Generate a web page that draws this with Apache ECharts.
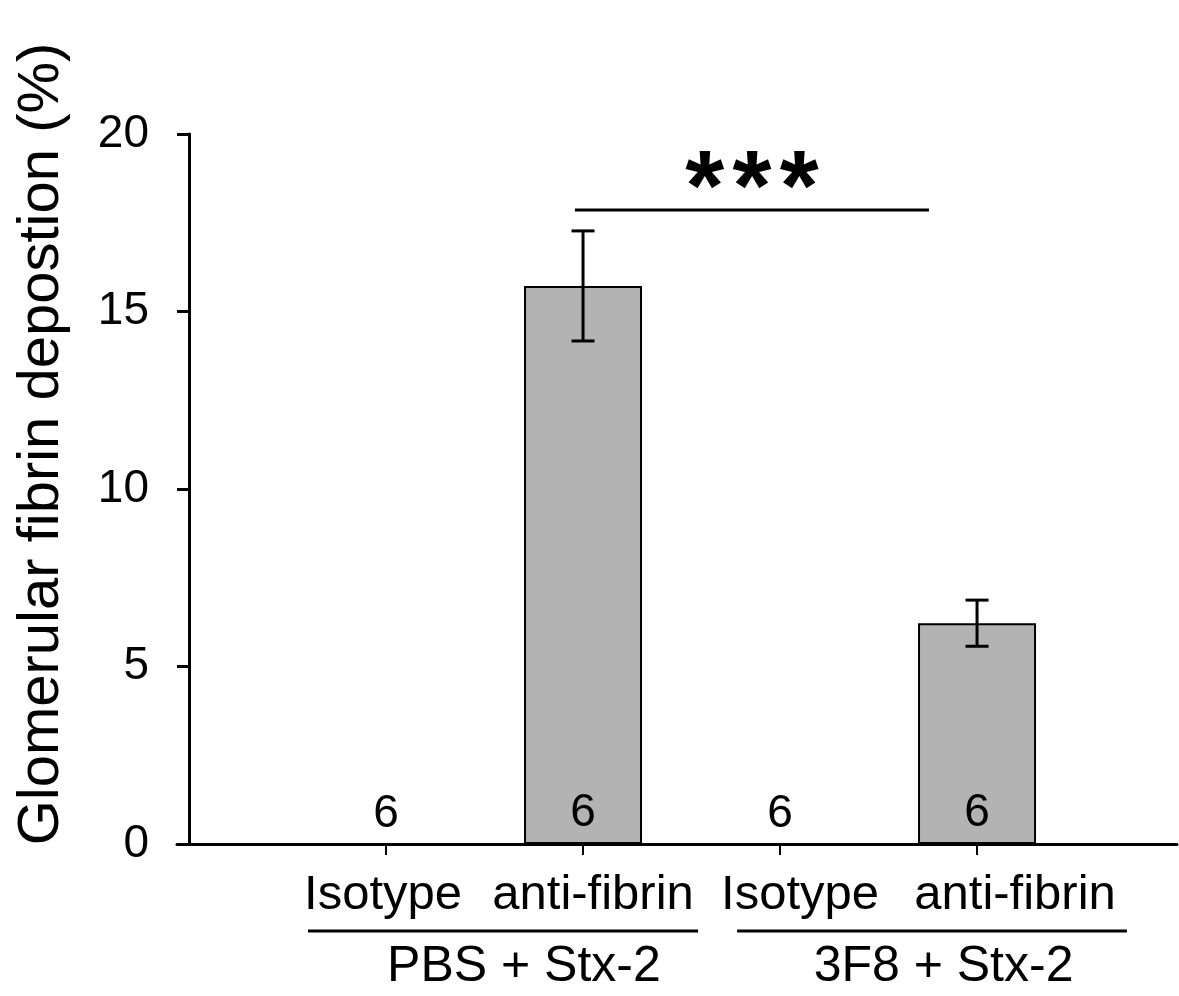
<!DOCTYPE html>
<html>
<head>
<meta charset="utf-8">
<script src="https://cdn.jsdelivr.net/npm/echarts@6/dist/echarts.min.js"></script>
<style>html,body{margin:0;padding:0;background:#fff}#c{width:1179px;height:996px}</style>
</head>
<body>
<div id="c"></div>
<script>
// ---- data ----
const categories = ['Isotype', 'anti-fibrin', 'Isotype', 'anti-fibrin'];
const positions = [1, 2, 3, 4];
const means = [0, 15.72, 0, 6.22];
const sems = [0, 1.55, 0, 0.65];
const nValues = [6, 6, 6, 6];
const groupNames = ['PBS + Stx-2', '3F8 + Stx-2'];
const groupCenters = [1.70, 3.83];
const groupSpans = [[0.604, 2.584], [2.782, 4.761]];
const sigSpan = [1.959, 3.756];
const sigLevel = 17.86;
const sigText = '*\u200A*\u200A*';
const yTicks = [0, 5, 10, 15, 20];
const yTitle = 'Glomerular fibrin depostion (%)';

// ---- layout (not data) ----
const FONT = "'Liberation Sans', Arial, sans-serif";
const X_MIN = -0.061, X_MAX = 5.015;
const labelShiftPx = [-3, 10, 20, 38];
const PX_PER_UNIT = 197;
const labelPositions = positions.map((p, i) => p + labelShiftPx[i] / PX_PER_UNIT);

const chart = echarts.init(document.getElementById('c'));

const option = {
  animation: false,
  backgroundColor: '#fff',
  grid: { left: 177, right: 2, top: 134, bottom: 152, containLabel: false },
  xAxis: [
    {
      type: 'value', min: X_MIN, max: X_MAX, position: 'bottom',
      splitLine: { show: false },
      axisLine: { show: true, lineStyle: { color: '#000', width: 3 } },
      axisTick: { show: true, customValues: positions, length: 11, inside: false, lineStyle: { color: '#000', width: 2 } },
      axisLabel: {
        show: true, customValues: labelPositions, margin: 27,
        fontSize: 49, fontFamily: FONT, color: '#000',
        formatter: v => categories[Math.round(v) - 1]
      }
    },
    {
      type: 'value', min: X_MIN, max: X_MAX, position: 'bottom',
      splitLine: { show: false },
      axisLine: { show: false },
      axisTick: { show: false },
      axisLabel: {
        show: true, customValues: groupCenters, margin: 98,
        fontSize: 50, fontFamily: FONT, color: '#000',
        formatter: v => groupNames[v < 2.7 ? 0 : 1]
      }
    }
  ],
  yAxis: {
    type: 'value', min: 0, max: 20, interval: 5, offset: -12,
    name: yTitle, nameLocation: 'middle', nameGap: 118,
    nameTextStyle: { fontSize: 58, fontFamily: FONT, color: '#000', padding: [0, 0, 0, 90] },
    splitLine: { show: false },
    axisLine: { show: true, lineStyle: { color: '#000', width: 3 } },
    axisTick: { show: true, length: 12, inside: false, lineStyle: { color: '#000', width: 3 } },
    axisLabel: { margin: 40, fontSize: 46, fontFamily: FONT, color: '#000',
      customValues: yTicks }
  },
  series: [
    {
      type: 'bar', xAxisIndex: 0,
      data: positions.map((p, i) => [p, means[i]]),
      barWidth: 118,
      itemStyle: { color: '#b3b3b3', borderColor: '#000', borderWidth: 2 },
      label: {
        show: true, position: 'insideBottom', distance: 8,
        fontSize: 46, fontFamily: FONT, color: '#000',
        formatter: p => String(nValues[p.dataIndex])
      }
    },
    {
      type: 'custom', xAxisIndex: 0, clip: false, z: 5,
      data: positions.map((p, i) => [p, means[i] - sems[i], means[i] + sems[i]]).filter((d, i) => sems[i] > 0),
      renderItem: (params, api) => {
        const x = api.value(0);
        const lo = api.coord([x, api.value(1)]);
        const hi = api.coord([x, api.value(2)]);
        const cap = 11.5;
        const st = { stroke: '#000', lineWidth: 3 };
        return { type: 'group', children: [
          { type: 'line', shape: { x1: lo[0], y1: lo[1], x2: hi[0], y2: hi[1] }, style: st },
          { type: 'line', shape: { x1: lo[0] - cap, y1: lo[1], x2: lo[0] + cap, y2: lo[1] }, style: st },
          { type: 'line', shape: { x1: hi[0] - cap, y1: hi[1], x2: hi[0] + cap, y2: hi[1] }, style: st }
        ]};
      }
    },
    {
      type: 'custom', xAxisIndex: 0, clip: false, z: 5,
      data: groupSpans.map(s => [s[0], s[1]]),
      renderItem: (params, api) => {
        const a = api.coord([api.value(0), 0]);
        const b = api.coord([api.value(1), 0]);
        const y = a[1] + 87;
        return { type: 'line', shape: { x1: a[0], y1: y, x2: b[0], y2: y }, style: { stroke: '#000', lineWidth: 3 } };
      }
    },
    {
      type: 'custom', xAxisIndex: 0, clip: false, z: 5,
      data: [[sigSpan[0], sigSpan[1], sigLevel]],
      renderItem: (params, api) => {
        const a = api.coord([api.value(0), api.value(2)]);
        const b = api.coord([api.value(1), api.value(2)]);
        return { type: 'group', children: [
          { type: 'line', shape: { x1: a[0], y1: a[1], x2: b[0], y2: b[1] }, style: { stroke: '#000', lineWidth: 3 } },
          { type: 'text', x: (a[0] + b[0]) / 2, y: a[1] + 32,
            style: { text: sigText, font: "bold 100px " + FONT, fill: '#000', align: 'center', verticalAlign: 'bottom' } }
        ]};
      }
    }
  ]
};
chart.setOption(option);
</script>
</body>
</html>
